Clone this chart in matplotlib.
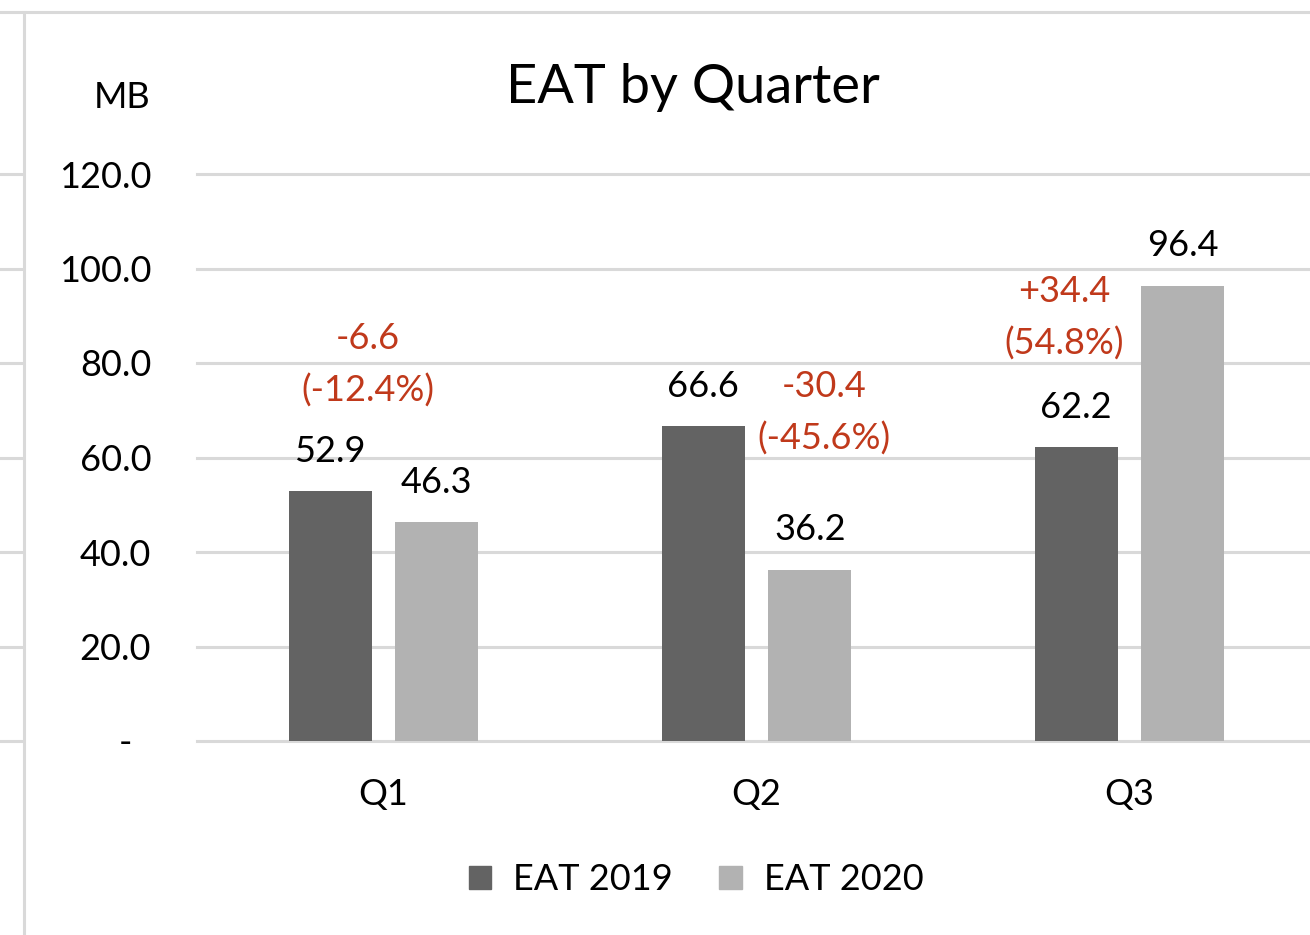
import numpy as np
import matplotlib
matplotlib.use("Agg")
import matplotlib.pyplot as plt
from matplotlib.lines import Line2D
from matplotlib.patches import Patch
import matplotlib.transforms as mtransforms

quarters = ["Q1", "Q2", "Q3"]
eat_2019 = [52.9, 66.6, 62.2]
eat_2020 = [46.3, 36.2, 96.4]
change_labels = ["-6.6\n(-12.4%)", "-30.4\n(-45.6%)", "+34.4\n(54.8%)"]
y_ticks = [0, 20, 40, 60, 80, 100, 120]

# layout bits (not data)
change_pos = [(-0.042, 79.6), (1.181, 69.4), (1.824, 89.6)]

plt.rcParams["font.family"] = ["Lato", "DejaVu Sans"]

C19 = "#636363"
C20 = "#b2b2b2"
RED = "#c0391b"
GRID = "#d9d9d9"
FS = 26

W, H = 1310, 935
fig = plt.figure(figsize=(W / 100, H / 100), dpi=100)
ax = fig.add_axes([197 / W, 194 / H, (1316 - 197) / W, (741 - 174) / H])

x = np.arange(len(quarters))
bw = 0.223
off = 0.143
b1 = ax.bar(x - off, eat_2019, bw, color=C19, zorder=3)
b2 = ax.bar(x + off, eat_2020, bw, color=C20, zorder=3)

for bars, vals in [(b1, eat_2019), (b2, eat_2020)]:
    for r, v in zip(bars, vals):
        ax.annotate(f"{v:.1f}", (r.get_x() + r.get_width() / 2, v),
                    xytext=(0, 40), textcoords="offset pixels",
                    ha="center", va="center", fontsize=FS, color="black")

for lab, (px, py) in zip(change_labels, change_pos):
    ax.text(px, py, lab, ha="center", va="center", fontsize=FS,
            color=RED, linespacing=1.65)

ax.set_xlim(-0.5, 2.5)
ax.set_ylim(0, 120)
ax.set_yticks(y_ticks)
ax.set_yticklabels(["-  "] + [f"{t:.1f}" for t in y_ticks[1:]], fontsize=FS)
ax.set_xticks(x)
ax.set_xticklabels(quarters, fontsize=FS)
ax.tick_params(axis="y", length=0, pad=33)
ax.tick_params(axis="x", length=0, pad=27)
for s in ax.spines.values():
    s.set_visible(False)
for t in y_ticks:
    ax.axhline(t, color=GRID, lw=2.2, zorder=1, clip_on=False)

fig.text(693 / W, 1 - 87 / H, "EAT by Quarter", ha="center", va="center",
         fontsize=39)
fig.text(122 / W, 1 - 97 / H, "MB", ha="center", va="center", fontsize=FS)

# sheet borders around the chart
fig.add_artist(Line2D([0, 1], [1 - 12 / H, 1 - 12 / H], color=GRID, lw=2.2,
                      transform=fig.transFigure))
fig.add_artist(Line2D([23.5 / W, 23.5 / W], [0, 1 - 12 / H], color=GRID, lw=2.2,
                      transform=fig.transFigure))
trans = mtransforms.blended_transform_factory(fig.transFigure, ax.transData)
for t in y_ticks:
    fig.add_artist(Line2D([0, 22 / W], [t, t], color=GRID, lw=2.2,
                          transform=trans))

handles = [Patch(color=C19, label="EAT 2019"), Patch(color=C20, label="EAT 2020")]
fig.legend(handles=handles, loc="center", bbox_to_anchor=(696 / W, 1 - 880 / H),
           ncol=2, frameon=False, fontsize=FS, handlelength=0.62,
           handleheight=0.62, handletextpad=0.6, columnspacing=1.3)

fig.savefig("out.png", dpi=100)
